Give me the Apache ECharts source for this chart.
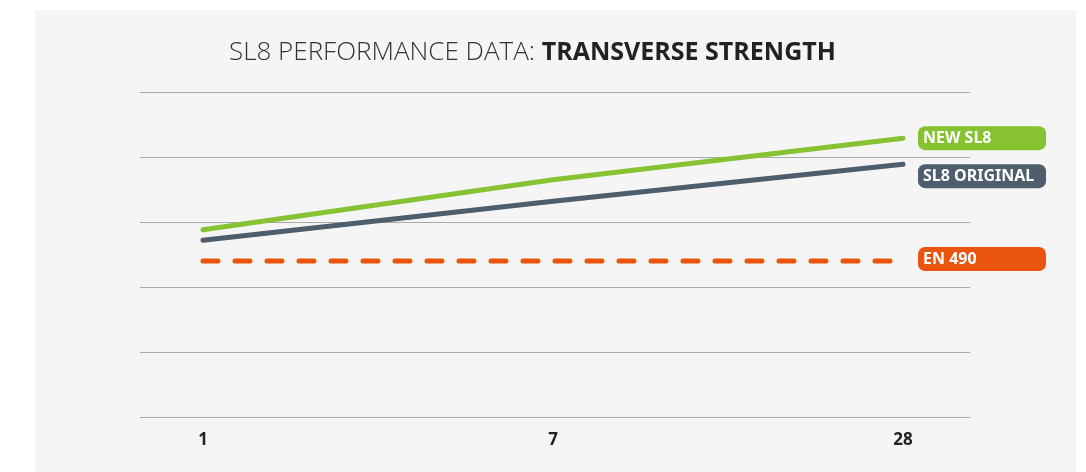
<!DOCTYPE html>
<html>
<head>
<meta charset="utf-8">
<script src="https://cdn.jsdelivr.net/npm/echarts@6/dist/echarts.min.js"></script>
<style>
  html, body { margin: 0; padding: 0; background: #fff; }
  #chart { width: 1086px; height: 472px; }
</style>
</head>
<body>
<div id="chart"></div>
<script>
// days
var categories = ['1', '7', '28'];
// transverse strength (relative units)
var newSL8 = [2.88, 3.65, 4.29];
var sl8Original = [2.72, 3.32, 3.89];
var en490 = [2.4, 2.4, 2.4];

function toPoints(arr) {
    return arr.map(function (v, i) { return [i, v]; });
}

function lineSeries(name, values, color, dashed, labelOffset) {
    return {
        type: 'line',
        name: name,
        data: toPoints(values),
        symbol: 'none',
        silent: true,
        lineStyle: {
            color: color,
            width: 5,
            cap: 'round',
            type: dashed ? [15, 17] : 'solid'
        },
        endLabel: {
            show: true,
            formatter: name,
            distance: 15,
            offset: labelOffset || [0, 0],
            backgroundColor: color,
            borderRadius: 7,
            padding: [3, 5, 2, 5],
            width: 118,
            lineHeight: 19,
            color: '#fff',
            fontFamily: 'Noto Sans',
            fontWeight: 'bold',
            fontSize: 16
        }
    };
}

var myChart = echarts.init(document.getElementById('chart'), null, { renderer: 'canvas' });

var option = {
    animation: false,
    backgroundColor: '#fff',
    graphic: [{
        type: 'rect',
        z: -10,
        shape: { x: 35, y: 10, width: 1041, height: 462 },
        style: { fill: '#f5f5f5' }
    }],
    title: {
        text: '{l|SL8 PERFORMANCE DATA: }{b|TRANSVERSE STRENGTH}',
        left: 224,
        top: 35,
        textStyle: {
            rich: {
                l: { fontFamily: 'Open Sans', fontWeight: 300, fontSize: 26, color: '#333' },
                b: { fontFamily: 'Open Sans', fontWeight: 'bold', fontSize: 25, color: '#222' }
            }
        }
    },
    grid: { left: 140, right: 116, top: 92, bottom: 55 },
    xAxis: {
        type: 'value',
        min: -0.18,
        max: 2.1914,
        axisLine: { show: false },
        axisTick: { show: false },
        splitLine: { show: false },
        axisLabel: {
            customValues: [0, 1, 2],
            formatter: function (v) { return categories[Math.round(v)]; },
            margin: 15,
            color: '#222',
            fontFamily: 'Open Sans',
            fontWeight: 'bold',
            fontSize: 17
        }
    },
    yAxis: {
        type: 'value',
        min: 0,
        max: 5,
        interval: 1,
        axisLine: { show: false },
        axisTick: { show: false },
        axisLabel: { show: false },
        splitLine: { lineStyle: { color: '#aaaaaa', width: 1 } }
    },
    series: [
        lineSeries('NEW SL8', newSL8, '#86c232', false),
        lineSeries('SL8 ORIGINAL', sl8Original, '#4e5e6c', false, [0, 12]),
        lineSeries('EN 490', en490, '#e9540f', true, [0, -2])
    ]
};

myChart.setOption(option);
</script>
</body>
</html>
